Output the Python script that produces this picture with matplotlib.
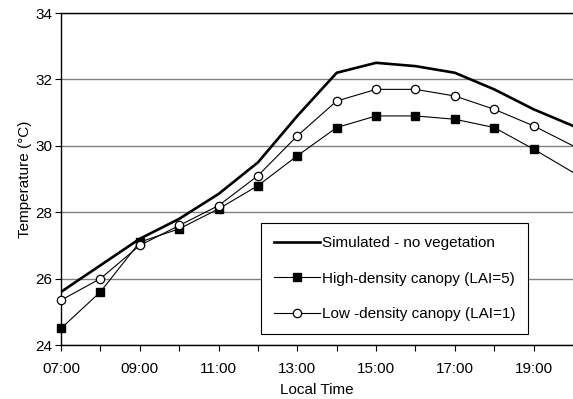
import numpy as np
import matplotlib.pyplot as plt

# --- data ---
hours = [7, 8, 9, 10, 11, 12, 13, 14, 15, 16, 17, 18, 19, 20]
no_veg = [25.6, 26.4, 27.2, 27.8, 28.55, 29.5, 30.9, 32.2, 32.5, 32.4, 32.2, 31.7, 31.1, 30.6]
high_lai = [24.5, 25.6, 27.1, 27.5, 28.1, 28.8, 29.7, 30.55, 30.9, 30.9, 30.8, 30.55, 29.9, 29.2]
low_lai = [25.35, 26.0, 27.0, 27.6, 28.2, 29.1, 30.3, 31.35, 31.7, 31.7, 31.5, 31.1, 30.6, 30.0]
tick_hours = [7, 9, 11, 13, 15, 17, 19]
tick_labels = ["07:00", "09:00", "11:00", "13:00", "15:00", "17:00", "19:00"]

plt.rcParams['font.family'] = ['Liberation Sans', 'DejaVu Sans']
plt.rcParams['font.size'] = 11

fig = plt.figure(figsize=(5.73, 3.99), dpi=100)
ax = fig.add_axes([0.1065, 0.1353, 0.8935, 0.8321])

# markers only up to 19:00, the line runs on to the edge
marks = slice(0, len(hours) - 1)
ax.plot(hours, no_veg, '-', color='black', lw=1.9, label='Simulated - no vegetation', zorder=3)
ax.plot(hours, high_lai, '-s', color='black', lw=0.8, ms=6, mfc='black', mec='black',
        markevery=marks, clip_on=False, label='High-density canopy (LAI=5)', zorder=4)
ax.plot(hours, low_lai, '-o', color='black', lw=0.8, ms=6, mfc='white', mec='black',
        mew=0.9, markevery=marks, clip_on=False, label='Low -density canopy (LAI=1)', zorder=5)

ax.set_xlim(7, 20)
ax.set_ylim(24, 34)
ax.set_xticks(hours, minor=True)
ax.set_xticks(tick_hours)
ax.set_xticklabels(tick_labels)
ax.set_yticks(np.arange(24, 35, 2))
ax.tick_params(which='both', direction='out', length=4, width=0.8, colors='black')
ax.tick_params(axis='x', pad=8)
ax.tick_params(axis='y', pad=2)

ax.yaxis.grid(True, color='#808080', lw=1.0)
ax.set_axisbelow(True)
ax.spines['right'].set_visible(False)
for s in ['left', 'bottom', 'top']:
    ax.spines[s].set_color('black')
    ax.spines[s].set_linewidth(1.0)

ax.set_xlabel('Local Time', labelpad=5)
ax.set_ylabel('Temperature (°C)', labelpad=3)

leg = ax.legend(loc='lower left', bbox_to_anchor=(0.39, 0.033), frameon=True, fancybox=False,
                edgecolor='black', framealpha=1, handlelength=3.0, handletextpad=0.15,
                labelspacing=1.4, borderpad=0.85, borderaxespad=0)
leg.get_frame().set_linewidth(0.8)

fig.savefig('out.png', dpi=100)
